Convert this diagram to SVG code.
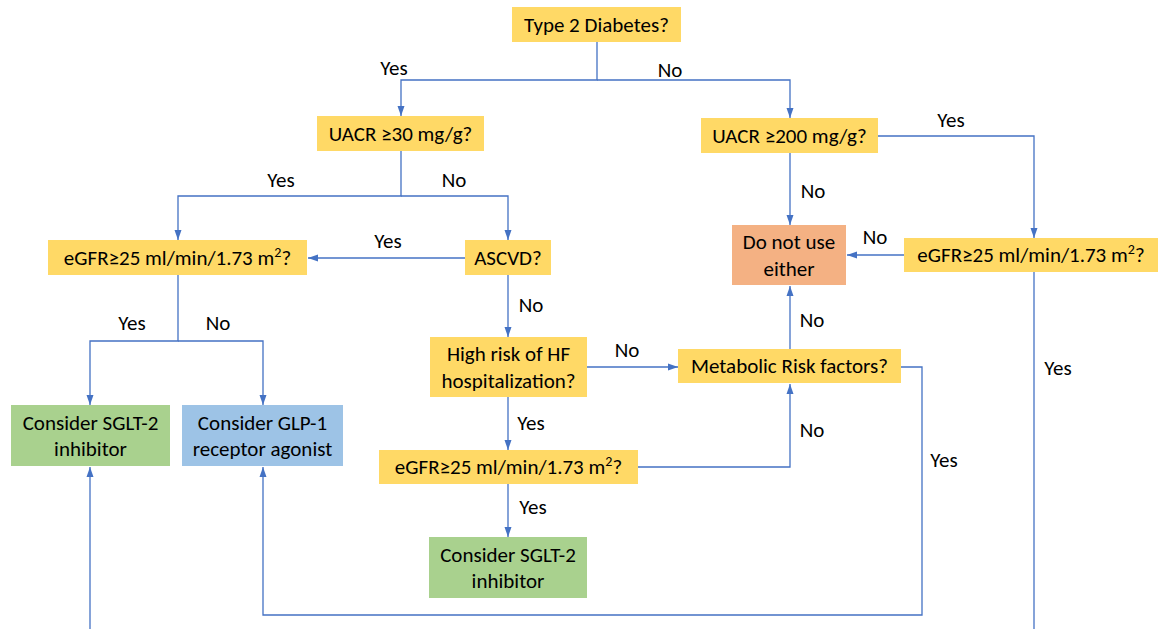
<svg xmlns="http://www.w3.org/2000/svg" width="1160" height="629" viewBox="0 0 1160 629">
<style>
.q{fill:#FFD966}
.o{fill:#F4B183}
.g{fill:#A9D18E}
.b{fill:#9DC3E6}
text{font-family:Carlito,"Liberation Sans",Arial,sans-serif;font-size:21px;fill:#000;text-anchor:middle;dominant-baseline:central}
.lbl{font-size:21px}
.c{fill:none;stroke:#4472C4;stroke-width:1.3}
</style>
<defs>
<marker id="a" markerUnits="userSpaceOnUse" markerWidth="10" markerHeight="10" viewBox="0 0 10 10" refX="10" refY="5" orient="auto">
<path d="M0,1.5 L10,5 L0,8.5 Z" fill="#4472C4"/>
</marker>
</defs>
<rect width="1160" height="629" fill="#fff"/>
<g id="connectors">
<path class="c" d="M597,42 V80 H401 V116" marker-end="url(#a)"/>
<path class="c" d="M597,80 H790 V118" marker-end="url(#a)"/>
<path class="c" d="M401,151 V196 H178 V240" marker-end="url(#a)"/>
<path class="c" d="M401,196 H508 V240" marker-end="url(#a)"/>
<path class="c" d="M465,258 H308" marker-end="url(#a)"/>
<path class="c" d="M508,275 V337" marker-end="url(#a)"/>
<path class="c" d="M178,275 V341 H90 V405" marker-end="url(#a)"/>
<path class="c" d="M178,341 H263 V405" marker-end="url(#a)"/>
<path class="c" d="M790,153 V225" marker-end="url(#a)"/>
<path class="c" d="M878,136 H1034 V238" marker-end="url(#a)"/>
<path class="c" d="M904,255 H847" marker-end="url(#a)"/>
<path class="c" d="M1034,272 V629"/>
<path class="c" d="M90,629 V467" marker-end="url(#a)"/>
<path class="c" d="M587,367 H678" marker-end="url(#a)"/>
<path class="c" d="M508,397 V450" marker-end="url(#a)"/>
<path class="c" d="M508,484 V537" marker-end="url(#a)"/>
<path class="c" d="M638,467 H790 V384" marker-end="url(#a)"/>
<path class="c" d="M790,349 V286" marker-end="url(#a)"/>
<path class="c" d="M901,367 H922 V615 H263 V467" marker-end="url(#a)"/>
<g class="labels">
<text class="lbl" x="394" y="68">Yes</text>
<text class="lbl" x="670" y="70">No</text>
<text class="lbl" x="281" y="180">Yes</text>
<text class="lbl" x="454" y="180">No</text>
<text class="lbl" x="388" y="241">Yes</text>
<text class="lbl" x="531" y="305">No</text>
<text class="lbl" x="132" y="323">Yes</text>
<text class="lbl" x="218" y="323">No</text>
<text class="lbl" x="951" y="120">Yes</text>
<text class="lbl" x="813" y="191">No</text>
<text class="lbl" x="875" y="237">No</text>
<text class="lbl" x="627" y="350">No</text>
<text class="lbl" x="812" y="320">No</text>
<text class="lbl" x="531" y="423">Yes</text>
<text class="lbl" x="812" y="430">No</text>
<text class="lbl" x="533" y="507">Yes</text>
<text class="lbl" x="944" y="460">Yes</text>
<text class="lbl" x="1058" y="368">Yes</text>
</g>
</g>
<g id="n-t2d"><rect class="q" x="512" y="7" width="169" height="35"/><text x="596.5" y="24.5">Type 2 Diabetes?</text></g>
<g id="n-uacr30"><rect class="q" x="317" y="116" width="167" height="35"/><text x="400.5" y="133.5">UACR ≥30 mg/g?</text></g>
<g id="n-uacr200"><rect class="q" x="701" y="118" width="177" height="35"/><text x="789.5" y="135.5">UACR ≥200 mg/g?</text></g>
<g id="n-egfr-l"><rect class="q" x="48" y="240" width="259" height="35"/><text x="177.5" y="257.5">eGFR≥25 ml/min/1.73 m<tspan dy="-6" font-size="14">2</tspan><tspan dy="6">?</tspan></text></g>
<g id="n-ascvd"><rect class="q" x="465" y="240" width="86" height="35"/><text x="508" y="257.5">ASCVD?</text></g>
<g id="n-donot"><rect class="o" x="732" y="225" width="114" height="60"/><text x="789" y="242">Do not use</text><text x="789" y="269">either</text></g>
<g id="n-egfr-r"><rect class="q" x="904" y="238" width="254" height="34"/><text x="1031" y="255">eGFR≥25 ml/min/1.73 m<tspan dy="-6" font-size="14">2</tspan><tspan dy="6">?</tspan></text></g>
<g id="n-hf"><rect class="q" x="430" y="337" width="157" height="60"/><text x="508.5" y="354">High risk of HF</text><text x="508.5" y="381">hospitalization?</text></g>
<g id="n-metab"><rect class="q" x="678" y="349" width="223" height="34"/><text x="789.5" y="366">Metabolic Risk factors?</text></g>
<g id="n-sglt2-l"><rect class="g" x="11" y="405" width="159" height="61"/><text x="90.5" y="423">Consider SGLT-2</text><text x="90.5" y="449">inhibitor</text></g>
<g id="n-glp1"><rect class="b" x="182" y="405" width="161" height="61"/><text x="262.5" y="423">Consider GLP-1</text><text x="262.5" y="449">receptor agonist</text></g>
<g id="n-egfr-m"><rect class="q" x="379" y="450" width="259" height="34"/><text x="508.5" y="467">eGFR≥25 ml/min/1.73 m<tspan dy="-6" font-size="14">2</tspan><tspan dy="6">?</tspan></text></g>
<g id="n-sglt2-b"><rect class="g" x="429" y="537" width="158" height="61"/><text x="508" y="555">Consider SGLT-2</text><text x="508" y="581">inhibitor</text></g>
</svg>
